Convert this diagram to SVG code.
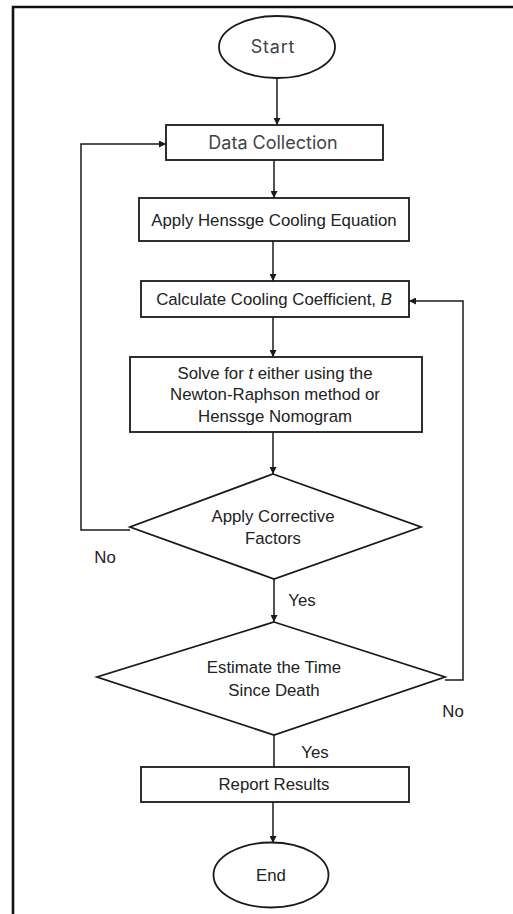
<svg xmlns="http://www.w3.org/2000/svg" width="513" height="914" viewBox="0 0 513 914">
<defs>
<marker id="ah" viewBox="0 0 10 10" refX="10" refY="5" markerWidth="7" markerHeight="7" markerUnits="userSpaceOnUse" orient="auto">
<path d="M0,0 L10,5 L0,10 Z" fill="#1a1a1a"/>
</marker>
</defs>
<style>
.shape{fill:#fff;stroke:#1a1a1a;stroke-width:1.8}
.line{fill:none;stroke:#1a1a1a;stroke-width:1.5}
.t{font-family:"Liberation Sans",Arial,sans-serif;font-size:16.8px;fill:#222;text-anchor:middle}
.a{font-family:Inter,"Liberation Sans",sans-serif;font-size:18px;fill:#444;text-anchor:middle}
</style>
<rect width="513" height="914" fill="#fff"/>
<path d="M13,930 L13,7 L530,7" fill="none" stroke="#111" stroke-width="2.6"/>
<g id="connectors">
<line class="line" x1="277" y1="78" x2="277" y2="125" marker-end="url(#ah)"/>
<line class="line" x1="274" y1="160" x2="274" y2="198" marker-end="url(#ah)"/>
<line class="line" x1="273" y1="241" x2="273" y2="281" marker-end="url(#ah)"/>
<line class="line" x1="273" y1="317" x2="273" y2="357" marker-end="url(#ah)"/>
<line class="line" x1="273" y1="432" x2="273" y2="474" marker-end="url(#ah)"/>
<line class="line" x1="274" y1="579" x2="274" y2="622" marker-end="url(#ah)"/>
<line class="line" x1="274" y1="735" x2="274" y2="767"/>
<line class="line" x1="273" y1="802" x2="273" y2="843" marker-end="url(#ah)"/>
<polyline class="line" points="130,530 81,530 81,144 166,144" marker-end="url(#ah)"/>
<polyline class="line" points="445,680 463,680 463,301 409,301" marker-end="url(#ah)"/>
<text class="t" x="105" y="563">No</text>
<text class="t" x="302" y="606">Yes</text>
<text class="t" x="453" y="717">No</text>
<text class="t" x="315" y="758">Yes</text>
</g>
<g id="start">
<ellipse class="shape" cx="277" cy="47" rx="58" ry="31"/>
<text class="a" x="273" y="53" font-size="19" letter-spacing="0.8">Start</text>
</g>
<g id="data-collection">
<rect class="shape" x="166" y="125" width="217" height="35"/>
<text class="a" x="273" y="149">Data Collection</text>
</g>
<g id="henssge">
<rect class="shape" x="139" y="198" width="270" height="43"/>
<text class="t" x="274" y="226">Apply Henssge Cooling Equation</text>
</g>
<g id="coefficient">
<rect class="shape" x="141" y="281" width="268" height="36"/>
<text class="t" x="274" y="305">Calculate Cooling Coefficient, <tspan font-style="italic">B</tspan></text>
</g>
<g id="solve">
<rect class="shape" x="130" y="357" width="292" height="75"/>
<text class="t" x="275" y="379">Solve for <tspan font-style="italic">t</tspan> either using the</text>
<text class="t" x="275" y="400">Newton-Raphson method or</text>
<text class="t" x="275" y="422">Henssge Nomogram</text>
</g>
<g id="corrective">
<polygon class="shape" points="273,474 421,527 274,579 130,527"/>
<text class="t" x="273" y="522">Apply Corrective</text>
<text class="t" x="273" y="544">Factors</text>
</g>
<g id="estimate">
<polygon class="shape" points="274,622 445,677 274,735 97,677"/>
<text class="t" x="274" y="673">Estimate the Time</text>
<text class="t" x="274" y="696">Since Death</text>
</g>
<g id="report">
<rect class="shape" x="141" y="767" width="268" height="35"/>
<text class="t" x="274" y="790">Report Results</text>
</g>
<g id="end">
<ellipse class="shape" cx="271" cy="875" rx="57.5" ry="32.5"/>
<text class="t" x="271" y="881">End</text>
</g>
</svg>
